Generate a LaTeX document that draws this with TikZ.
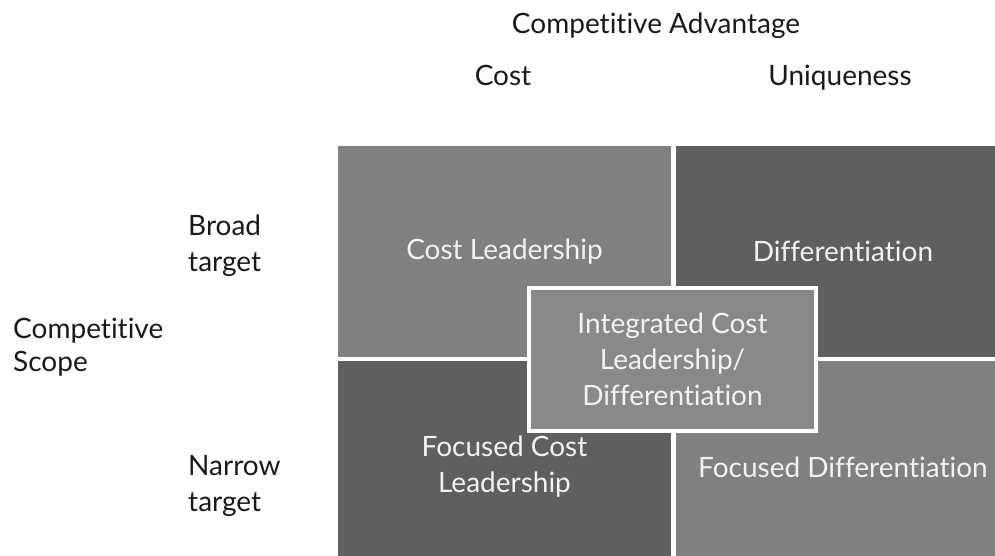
\documentclass[tikz,border=0pt]{standalone}
\usepackage{fontspec}
\setmainfont{Lato}[Ligatures={NoCommon,NoDiscretionary}]
\usepackage{xcolor}
\usepackage{tikz}
\usetikzlibrary{positioning}

\definecolor{lightcell}{HTML}{808080}
\definecolor{darkcell}{HTML}{5F5F5F}
\definecolor{midcell}{HTML}{898989}
\definecolor{celltext}{HTML}{F2F2F2}
\definecolor{labeltext}{HTML}{1A1A1A}

\begin{document}
\begin{tikzpicture}[x=1pt,y=-1pt,
                    node distance=4pt,
                    cell/.style={rectangle,inner sep=0pt,minimum width=333pt,
                                 minimum height=211pt,align=center,text=celltext,
                                 font=\fontsize{28}{36}\selectfont},
                    axis label/.style={font=\fontsize{28}{36}\selectfont,
                                 text=labeltext,inner sep=0pt,align=left}]

    \useasboundingbox (0,0) rectangle (995,555);
    \clip (0,0) rectangle (995,555);

    % the four cells of the grid
    \node[cell, fill=lightcell] (costlead) at (504.5,251.5) {Cost Leadership};
    \node[cell, fill=darkcell, right=5pt of costlead] (diffn) {Differentiation};
    \node[cell, fill=darkcell, below=4pt of costlead] (focost) {Focused Cost\\Leadership};
    \node[cell, fill=lightcell, below=4pt of diffn] (fodiff) {Focused Differentiation};

    % the box laid over the middle
    \node[cell, fill=midcell, draw=white, line width=4pt,
          minimum width=287pt, minimum height=143pt] (integ) at (672.5,359.5)
          {Integrated Cost\\Leadership/\\Differentiation};

    % axis labels (base = last line)
    \node[axis label, anchor=base] (advan) at (656,33) {Competitive Advantage};
    \node[axis label, anchor=base] (cost) at (503,85) {Cost};
    \node[axis label, anchor=base] (uniq) at (840,85) {Uniqueness};

    \node[axis label, anchor=base west] (broad) at (188,271) {Broad\\target};
    \node[axis label, anchor=base west, font=\fontsize{28}{33}\selectfont]
        (scope) at (13,371) {Competitive\\Scope};
    \node[axis label, anchor=base west] (narrow) at (188,511) {Narrow\\target};
\end{tikzpicture}
\end{document}
